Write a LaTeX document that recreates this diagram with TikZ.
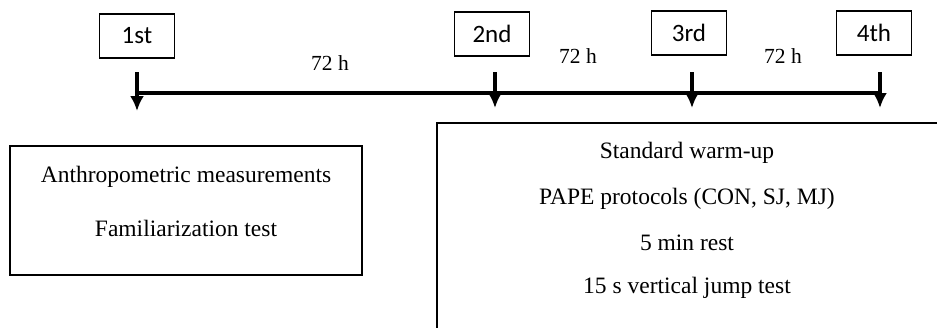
\documentclass[tikz,border=0pt]{standalone}
\usepackage{fontspec}
\setmainfont{Liberation Serif}
\newfontfamily\labelfont{Carlito}
\usetikzlibrary{arrows.meta}
\begin{document}
\begin{tikzpicture}[
	x=1pt,y=-1pt,
	visitbox/.style={draw,line width=1.6pt,minimum width=75pt,minimum height=44pt,inner sep=0pt,font=\labelfont\fontsize{25}{28}\selectfont},
	gaplabel/.style={font=\fontsize{21.5}{24}\selectfont},
	steptext/.style={font=\fontsize{23.5}{28}\selectfont},
	visitarrow/.style={line width=3.2pt,-{Latex[length=15pt,width=14pt]}}
]

	\clip (0,0) rectangle (937,327);
	\useasboundingbox (0,0) rectangle (937,327);

	\node[visitbox] at (137,36) (v1) {1st};
	\node[visitbox] at (492,34) (v2) {2nd};
	\node[visitbox] at (689,33) (v3) {3rd};
	\node[visitbox] at (874,33) (v4) {4th};

	\coordinate (t1) at (137,72);
	\coordinate (t2) at (495,72);
	\coordinate (t3) at (692,72);
	\coordinate (t4) at (880,72);
	\coordinate (b1) at (137,111);
	\coordinate (b2) at (495,108);
	\coordinate (b3) at (692,108);
	\coordinate (b4) at (880,108);

	\draw[line width=3.4pt] (137,93) -- (880,93);
	\draw[visitarrow] (t1) -- (b1);
	\draw[visitarrow] (t2) -- (b2);
	\draw[visitarrow] (t3) -- (b3);
	\draw[visitarrow] (t4) -- (b4);

	\node[gaplabel] at (330,63) (g1) {72 h};
	\node[gaplabel] at (578,56) (g2) {72 h};
	\node[gaplabel] at (783,56) (g3) {72 h};

	\draw[line width=1.6pt] (10,146) rectangle (362,275);
	\node[steptext] at (186,177) (s1) {Anthropometric measurements};
	\node[steptext] at (186,228) (s2) {Familiarization test};

	\draw[line width=1.6pt] (437,123) rectangle (960,360);
	\node[steptext] at (687,153) (p1) {Standard warm-up};
	\node[steptext] at (687,199) (p2) {PAPE protocols (CON, SJ, MJ)};
	\node[steptext] at (687,243) (p3) {5 min rest};
	\node[steptext] at (687,288) (p4) {15 s vertical jump test};

\end{tikzpicture}
\end{document}
